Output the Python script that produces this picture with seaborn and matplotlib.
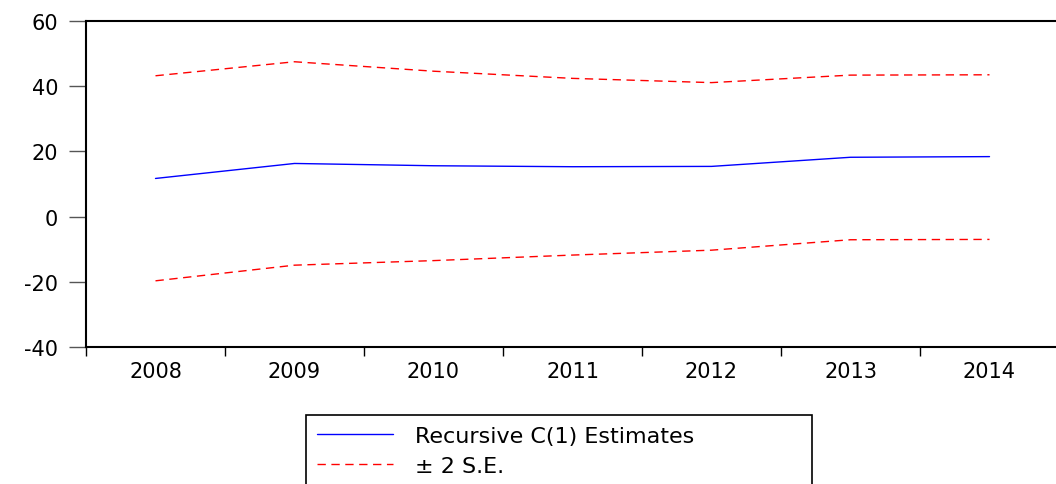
import matplotlib
matplotlib.use("Agg")
import matplotlib.pyplot as plt
import seaborn as sns
import pandas as pd

# recursive coefficient estimate and its +/- 2 S.E. band
years = [2008, 2009, 2010, 2011, 2012, 2013, 2014]
estimate = [11.7, 16.3, 15.6, 15.3, 15.4, 18.2, 18.4]
upper = [43.2, 47.5, 44.6, 42.4, 41.1, 43.4, 43.5]
lower = [-19.7, -14.9, -13.5, -11.8, -10.3, -7.1, -7.0]
y_ticks = [-40, -20, 0, 20, 40, 60]

sns.set_style("white")
plt.rcParams["font.family"] = ["DejaVu Sans"]
plt.rcParams["text.color"] = "black"
plt.rcParams["xtick.color"] = "black"
plt.rcParams["ytick.color"] = "black"

df = pd.DataFrame({
    "pos": range(len(years)),
    "estimate": estimate,
    "upper": upper,
    "lower": lower,
})

fig = plt.figure(figsize=(10.56, 4.85), dpi=100)
ax = fig.add_axes([86 / 1056, 1 - 348 / 485, 973 / 1056, 326 / 485])

dash = (0, (6, 4))
sns.lineplot(data=df, x="pos", y="estimate", ax=ax, color="#0000ff",
             linewidth=1, label="Recursive C(1) Estimates")
sns.lineplot(data=df, x="pos", y="upper", ax=ax, color="#ff0000",
             linewidth=1, linestyle=dash, label="\u00b1 2 S.E.")
sns.lineplot(data=df, x="pos", y="lower", ax=ax, color="#ff0000",
             linewidth=1, linestyle=dash, label="_nolegend_")

ax.set_xlim(-0.5, len(years) - 0.5)
ax.set_ylim(-40, 60)
ax.set_xlabel("")
ax.set_ylabel("")

ax.set_yticks(y_ticks)
ax.set_yticklabels([str(v) for v in y_ticks])
ax.set_xticks(range(len(years)))
ax.set_xticklabels([str(y) for y in years])
ax.set_xticks([i - 0.5 for i in range(len(years) + 1)], minor=True)

ax.tick_params(axis="y", which="major", direction="out", length=12,
               width=1, color="#555555", pad=8, labelsize=15, left=True,
               labelcolor="black")
ax.tick_params(axis="x", which="major", length=0, pad=10, labelsize=15,
               labelcolor="black")
ax.tick_params(axis="x", which="minor", direction="out", length=6.5,
               width=1, color="black", bottom=True)

for side in ["left", "top", "bottom", "right"]:
    ax.spines[side].set_color("black")
    ax.spines[side].set_linewidth(1.5)
    ax.spines[side].set_visible(True)

handles, labels = ax.get_legend_handles_labels()
ax.get_legend().remove()
leg = fig.legend(handles, labels, loc="upper left",
                 bbox_to_anchor=(306 / 1056, 1 - 416 / 485 - 0.01, 506 / 1056, 0.01),
                 mode="expand", ncol=1, frameon=True, fancybox=False,
                 edgecolor="black", framealpha=1, fontsize=16,
                 handlelength=3.4, handletextpad=1.0, borderpad=0.5,
                 labelspacing=0.45, borderaxespad=0)
leg.get_frame().set_linewidth(1.2)
for t in leg.get_texts():
    t.set_color("black")

fig.savefig("out.png", dpi=100)
